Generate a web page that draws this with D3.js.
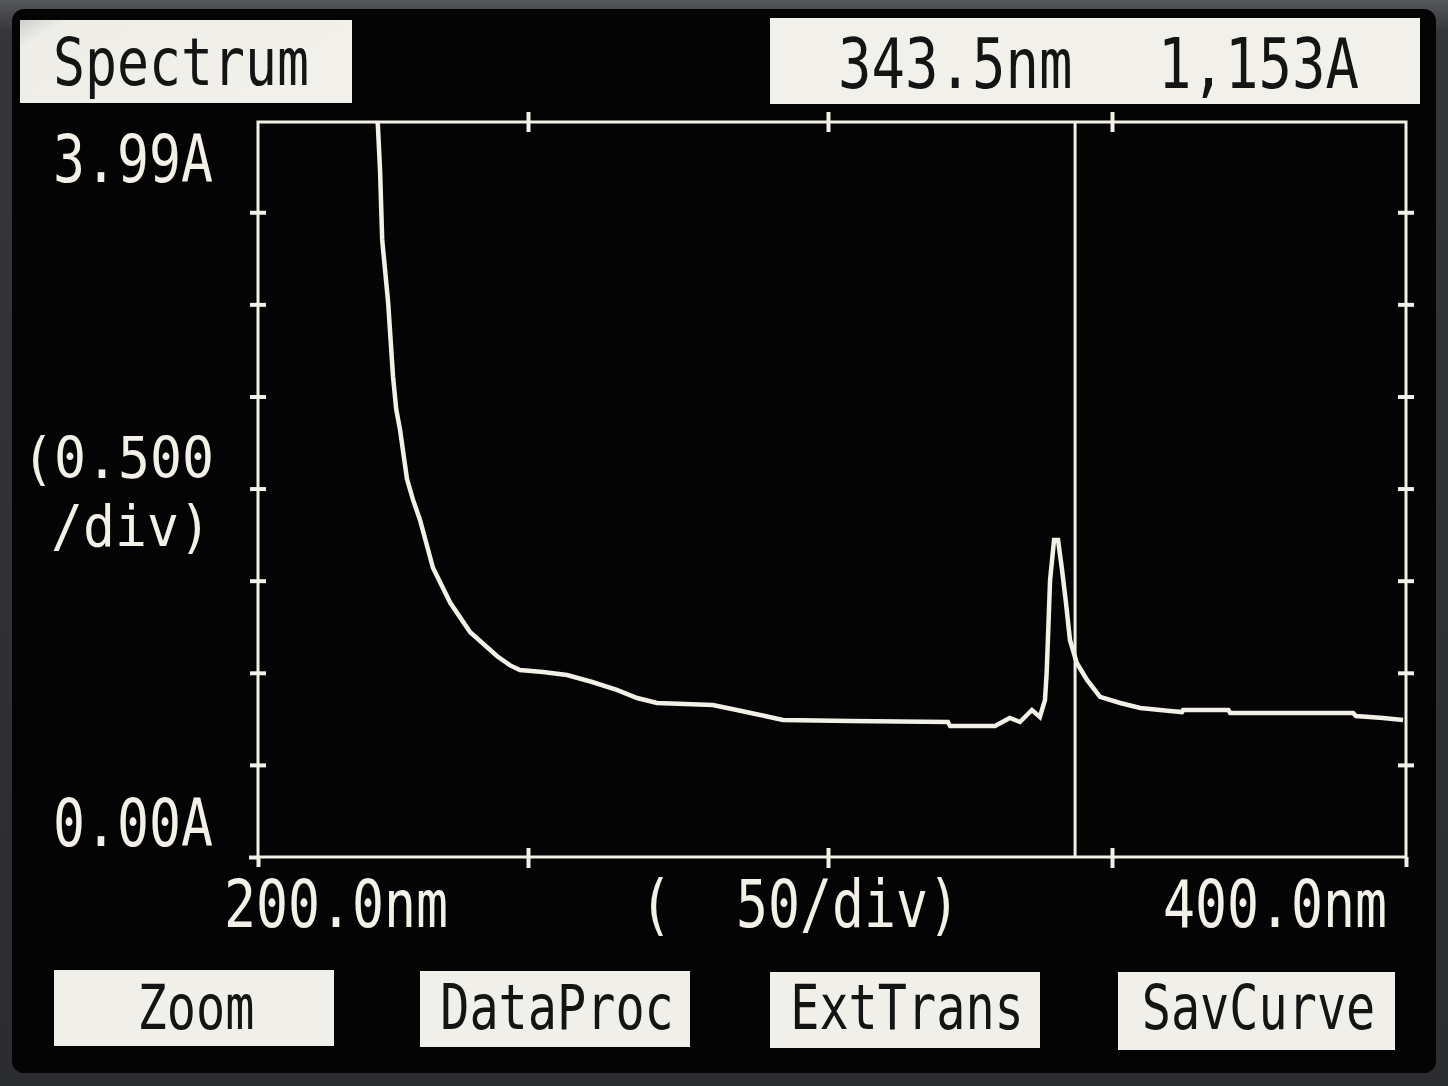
<!DOCTYPE html>
<html>
<head>
<meta charset="utf-8">
<script src="https://cdn.jsdelivr.net/npm/d3@7"></script>
<style>
  html, body { margin: 0; padding: 0; background: #2e3032; }
  svg { display: block; }
</style>
</head>
<body>
<svg id="chart" width="1448" height="1086"></svg>
<script>
// ---------- DATA ----------
const wavelengthNm = [221.6, 222.2, 222.6, 223.0, 224.1, 225.0, 225.6, 226.3, 227.6, 228.7, 230.0,
  232.4, 235.6, 239.3, 244.3, 246.7, 248.5, 252.5, 256.5, 260.7, 264.8, 268.2, 271.5,
  280.8, 284.8, 288.7, 292.5, 303.9, 321.1, 321.5, 329.4, 332.0, 333.8, 335.9, 337.3,
  338.2, 338.5, 339.1, 339.8, 340.5, 341.2, 341.9, 342.6, 343.8, 345.6, 347.9, 351.4,
  354.8, 359.9, 361.9, 362.1, 369.8, 370.1, 391.0, 391.5, 396.1, 399.5];
const absorbanceA = [4.20, 3.97, 3.73, 3.35, 3.01, 2.61, 2.43, 2.32, 2.05, 1.94, 1.83,
  1.57, 1.38, 1.22, 1.09, 1.04, 1.015, 1.004, 0.988, 0.950, 0.907, 0.863, 0.836,
  0.825, 0.798, 0.771, 0.744, 0.738, 0.733, 0.711, 0.711, 0.755, 0.733, 0.798, 0.760,
  0.852, 0.999, 1.504, 1.721, 1.721, 1.56, 1.379, 1.178, 1.053, 0.961, 0.869, 0.836,
  0.809, 0.793, 0.787, 0.798, 0.798, 0.782, 0.782, 0.765, 0.755, 0.744];

const xDomain = [200, 400];
const yDomain = [0, 3.99];
const xTickValues = [250, 300, 350];
const yTickValues = [0.5, 1.0, 1.5, 2.0, 2.5, 3.0, 3.5];
const cursorNm = 343.5;
const cursorText = ["343.5nm", "1,153A"];
const titleText = "Spectrum";
const yLabels = ["3.99A", "(0.500", "/div)", "0.00A"];
const xLabels = ["200.0nm", "(  50/div)", "400.0nm"];
const buttonLabels = ["Zoom", "DataProc", "ExtTrans", "SavCurve"];

// ---------- LAYOUT ----------
const CREAM = "#f2f0e7";
const INK = "#141414";
const plot = { left: 258, right: 1406, top: 122, bottom: 857 };
const svg = d3.select("#chart");

const defs = svg.append("defs");
const bez = defs.append("linearGradient").attr("id", "bez").attr("x1", 0).attr("y1", 0).attr("x2", 0).attr("y2", 1);
bez.append("stop").attr("offset", "0").attr("stop-color", "#55575a");
bez.append("stop").attr("offset", "0.03").attr("stop-color", "#34363a");
bez.append("stop").attr("offset", "1").attr("stop-color", "#2a2c2f");
const boxGrad = defs.append("linearGradient").attr("id", "boxg").attr("x1", 0).attr("y1", 0).attr("x2", 1).attr("y2", 0.4);
boxGrad.append("stop").attr("offset", "0").attr("stop-color", "#cfcfcc");
boxGrad.append("stop").attr("offset", "0.12").attr("stop-color", "#eeede8");
boxGrad.append("stop").attr("offset", "1").attr("stop-color", "#f1f0ea");
defs.append("clipPath").attr("id", "plotclip").append("rect")
  .attr("x", plot.left).attr("y", plot.top)
  .attr("width", plot.right - plot.left).attr("height", plot.bottom - plot.top);

svg.append("rect").attr("width", 1448).attr("height", 1086).attr("fill", "url(#bez)");
svg.append("rect").attr("x", 12).attr("y", 9).attr("width", 1424).attr("height", 1064)
  .attr("rx", 12).attr("fill", "#040404");

// scales (piecewise to follow the photographed screen's division marks)
const x = d3.scaleLinear()
  .domain([200, 250, 300, 350, 400])
  .range([plot.left, 528, 828, 1112, plot.right]);
const y = d3.scaleLinear().domain(yDomain).range([plot.bottom, plot.top]);

const FONT = "'DejaVu Sans Mono', monospace";
function monoText(str, x0, baseline, pitch, size, fill) {
  svg.append("text")
    .attr("x", x0).attr("y", baseline)
    .attr("font-family", FONT)
    .attr("font-size", size)
    .attr("fill", fill)
    .attr("textLength", str.length * pitch)
    .attr("lengthAdjust", "spacingAndGlyphs")
    .attr("xml:space", "preserve")
    .style("white-space", "pre")
    .text(str);
}

// top boxes
svg.append("rect").attr("x", 20).attr("y", 20).attr("width", 332).attr("height", 83).attr("fill", "url(#boxg)");
monoText(titleText, 53, 85, 32, 66, INK);
svg.append("rect").attr("x", 770).attr("y", 18).attr("width", 650).attr("height", 86).attr("fill", "#f1f0ea");
monoText(cursorText[0], 838, 88, 33.5, 69, INK);
monoText(cursorText[1], 1158, 88, 33.5, 69, INK);

// frame
svg.append("rect")
  .attr("x", plot.left).attr("y", plot.top)
  .attr("width", plot.right - plot.left).attr("height", plot.bottom - plot.top)
  .attr("fill", "none").attr("stroke", CREAM).attr("stroke-width", 3);

function styleAxis(g) {
  g.select(".domain").remove();
  g.selectAll(".tick line").attr("stroke", CREAM).attr("stroke-width", 4);
  g.selectAll(".tick text").remove();
}
svg.append("g").attr("transform", `translate(${plot.left + 8},0)`)
  .call(d3.axisLeft(y).tickValues(yTickValues).tickSize(16)).call(styleAxis);
svg.append("g").attr("transform", `translate(${plot.right + 8},0)`)
  .call(d3.axisLeft(y).tickValues(yTickValues).tickSize(16)).call(styleAxis);
svg.append("g").attr("transform", `translate(0,${plot.top + 10})`)
  .call(d3.axisTop(x).tickValues(xTickValues).tickSize(20)).call(styleAxis);
svg.append("g").attr("transform", `translate(0,${plot.bottom - 9})`)
  .call(d3.axisBottom(x).tickValues(xTickValues).tickSize(20)).call(styleAxis);
svg.append("g").attr("transform", `translate(0,${plot.bottom})`)
  .call(d3.axisBottom(x).tickValues(xDomain).tickSize(10)).call(styleAxis);
svg.append("g").attr("transform", `translate(${plot.left},0)`)
  .call(d3.axisLeft(y).tickValues([0]).tickSize(9)).call(styleAxis);

// cursor
svg.append("line")
  .attr("x1", x(cursorNm)).attr("x2", x(cursorNm))
  .attr("y1", plot.top).attr("y2", plot.bottom)
  .attr("stroke", CREAM).attr("stroke-width", 3);

// spectrum curve
const pts = wavelengthNm.map((w, i) => [w, absorbanceA[i]]);
const line = d3.line().x(d => x(d[0])).y(d => y(d[1])).curve(d3.curveLinear);
svg.append("path")
  .attr("clip-path", "url(#plotclip)")
  .attr("d", line(pts))
  .attr("fill", "none").attr("stroke", CREAM)
  .attr("stroke-width", 4.5).attr("stroke-linejoin", "miter");

// axis labels
monoText(yLabels[0], 53, 182, 32, 66, CREAM);
monoText(yLabels[1], 22, 478, 32, 57, CREAM);
monoText(yLabels[2], 51, 546, 32, 57, CREAM);
monoText(yLabels[3], 53, 846, 32, 66, CREAM);
monoText(xLabels[0], 224, 927, 32, 66, CREAM);
monoText(xLabels[1], 640, 927, 32, 66, CREAM);
monoText(xLabels[2], 1163, 927, 32, 66, CREAM);

// buttons
const buttonBoxes = [
  { x: 54, y: 970, w: 280, h: 76 },
  { x: 420, y: 971, w: 270, h: 76 },
  { x: 770, y: 972, w: 270, h: 76 },
  { x: 1118, y: 972, w: 277, h: 78 }
];
buttonLabels.forEach((lab, i) => {
  const b = buttonBoxes[i];
  svg.append("rect").attr("x", b.x).attr("y", b.y).attr("width", b.w).attr("height", b.h).attr("fill", "#f0efe9");
  const pitch = 29.2;
  const cx = b.x + b.w / 2 + 2;
  monoText(lab, cx - lab.length * pitch / 2, 1029, pitch, 63, INK);
});
</script>
</body>
</html>
